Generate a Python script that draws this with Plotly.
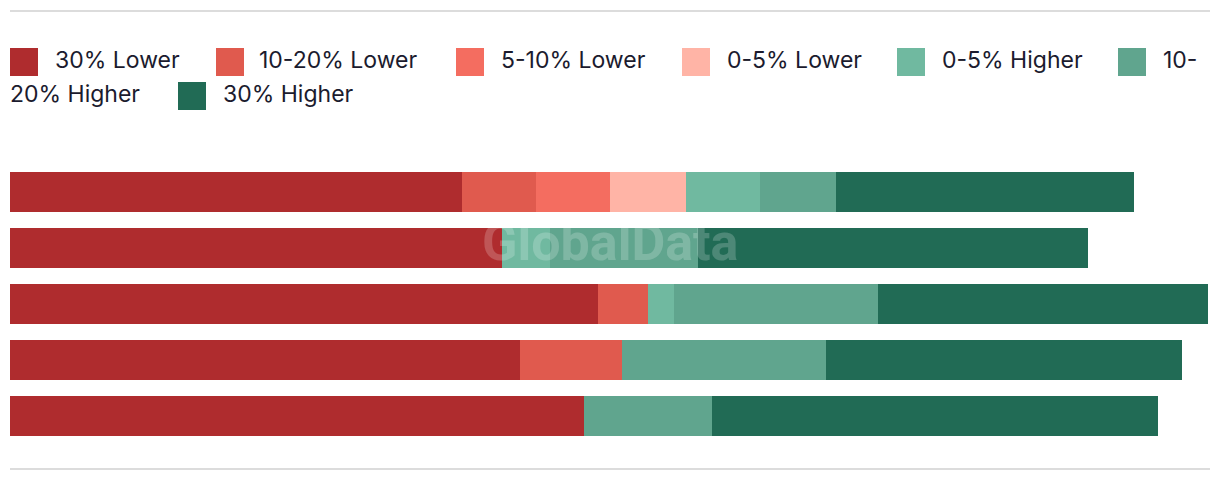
import plotly.graph_objects as go

# ---- data ----
categories = ["Row 1", "Row 2", "Row 3", "Row 4", "Row 5"]
series_names = ["30% Lower", "10-20% Lower", "5-10% Lower", "0-5% Lower",
                "0-5% Higher", "10-20% Higher", "30% Higher"]
lower_30 = [45.2, 49.2, 58.8, 51.0, 57.4]
lower_10_20 = [7.4, 0.0, 5.0, 10.2, 0.0]
lower_5_10 = [7.4, 0.0, 0.0, 0.0, 0.0]
lower_0_5 = [7.6, 0.0, 0.0, 0.0, 0.0]
higher_0_5 = [7.4, 4.8, 2.6, 0.0, 0.0]
higher_10_20 = [7.6, 14.8, 20.4, 20.4, 12.8]
higher_30 = [29.8, 39.0, 33.0, 35.6, 44.6]
series_values = [lower_30, lower_10_20, lower_5_10, lower_0_5,
                 higher_0_5, higher_10_20, higher_30]
colors = ["#af2c2e", "#e05a4e", "#f46d60", "#ffb4a6",
          "#70b9a0", "#60a58e", "#216b55"]

W, H = 1220, 482
ML, MR, MT, MB = 10, 12, 164, 38
PW, PH = W - ML - MR, H - MT - MB


def px(x):
    return (x - ML) / PW


def py(y):
    return (H - MB - y) / PH


fig = go.Figure()
for name, vals, col in zip(series_names, series_values, colors):
    fig.add_trace(go.Bar(
        y=categories, x=vals, name=name, orientation="h",
        marker=dict(color=col, line=dict(width=0)),
        showlegend=False, hoverinfo="x+name"))

total_max = max(sum(v[i] for v in series_values) for i in range(len(categories)))

font_family = "Inter, Roboto, sans-serif"
text_color = "#1b1b2e"
fsize = 23

shapes = []
annotations = []
# custom legend (swatch left x, text left x, row center y)
legend_layout = [
    (10, 55, 62), (216, 259, 62), (456, 501, 62), (682, 727, 62),
    (897, 942, 62), (1118, 1163, 62), (178, 223, 96),
]
for (sx, tx, cy), name, col in zip(legend_layout, series_names, colors):
    shapes.append(dict(type="rect", xref="paper", yref="paper",
                       x0=px(sx), x1=px(sx + 28), y0=py(cy - 14), y1=py(cy + 14),
                       fillcolor=col, line=dict(width=0), layer="above"))
    label = name
    if name == "10-20% Higher":
        label = "10-"
    annotations.append(dict(xref="paper", yref="paper", x=px(tx - 2), y=py(cy - 2),
                            text=label, showarrow=False, xanchor="left", yanchor="middle",
                            font=dict(family=font_family, size=fsize, color=text_color)))
annotations.append(dict(xref="paper", yref="paper", x=px(8), y=py(94),
                        text="20% Higher", showarrow=False, xanchor="left", yanchor="middle",
                        font=dict(family=font_family, size=fsize, color=text_color)))
# watermark
annotations.append(dict(xref="paper", yref="paper", x=px(610), y=py(242),
                        text="<b>GlobalData</b>", showarrow=False,
                        xanchor="center", yanchor="middle",
                        font=dict(family="Roboto, sans-serif", size=52,
                                  color="rgba(255,255,255,0.2)")))
# rules
for yy in (11, 469):
    shapes.append(dict(type="line", xref="paper", yref="paper",
                       x0=px(10), x1=px(1210), y0=py(yy), y1=py(yy),
                       line=dict(color="#dcdcdc", width=2)))

fig.update_layout(
    width=W, height=H,
    margin=dict(l=ML, r=MR, t=MT, b=MB, pad=0),
    barmode="stack", bargap=16 / 56,
    paper_bgcolor="white", plot_bgcolor="white",
    xaxis=dict(range=[0, total_max], visible=False, fixedrange=True),
    yaxis=dict(autorange="reversed", visible=False, fixedrange=True),
    shapes=shapes, annotations=annotations,
    font=dict(family=font_family, color=text_color),
)

fig.write_html("out.html", config={"displayModeBar": False})
